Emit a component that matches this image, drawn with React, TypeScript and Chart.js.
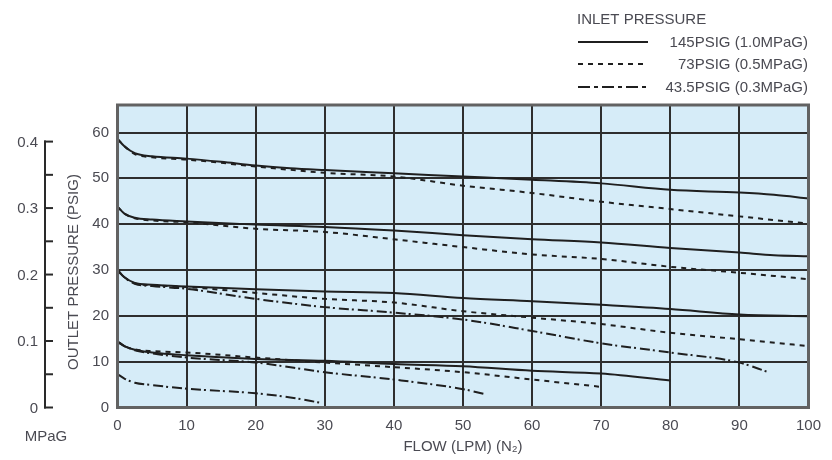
import React, { useEffect, useRef } from "react";
import { Chart, registerables } from "chart.js";

Chart.register(...registerables);

// ---------- data ----------
const FLOW_MIN = 0;
const FLOW_MAX = 100;
const PSI_MIN = 0;
const PSI_MAX = 66;
const PSI_PER_MPA = 145.038;

const MPA_TICKS = [0, 0.05, 0.1, 0.15, 0.2, 0.25, 0.3, 0.35, 0.4];
const MPA_LABELS = ["0", "", "0.1", "", "0.2", "", "0.3", "", "0.4"];

const INLET_LABELS = ["145PSIG (1.0MPaG)", "73PSIG (0.5MPaG)", "43.5PSIG (0.3MPaG)"];

// 145 PSIG inlet (solid)
const S58_FLOW = [0, 1, 2.5, 5, 10, 15, 20, 25, 30, 40, 50, 60, 70, 80, 90, 95, 100];
const S58_PSI = [58.6, 57, 55.5, 54.8, 54.3, 53.6, 52.8, 52.2, 51.8, 51.1, 50.4, 49.7, 48.9, 47.5, 46.9, 46.4, 45.6];
const S44_FLOW = [0, 1, 2.5, 5, 10, 20, 30, 40, 50, 60, 70, 80, 90, 95, 100];
const S44_PSI = [43.8, 42.3, 41.4, 41, 40.6, 39.9, 39.4, 38.6, 37.6, 36.7, 36, 34.8, 33.8, 33.2, 33];
const S30_FLOW = [0, 1, 2.5, 5, 10, 20, 30, 40, 50, 60, 70, 80, 90, 100];
const S30_PSI = [30, 28.4, 27.2, 26.8, 26.4, 25.8, 25.3, 25, 23.9, 23.2, 22.4, 21.5, 20.3, 19.9];
const S14_FLOW = [0, 1, 2.5, 5, 10, 20, 30, 40, 50, 60, 70, 80];
const S14_PSI = [14.4, 13.4, 12.6, 12, 11.4, 10.6, 10.2, 9.5, 9, 8, 7.4, 5.9];

// 73 PSIG inlet (dotted)
const D58_FLOW = [0, 1, 2.5, 5, 10, 20, 30, 40, 50, 60, 70, 80, 90, 100];
const D58_PSI = [58.6, 57, 55.3, 54.6, 54.1, 52.6, 51.2, 50.4, 48.4, 46.8, 44.9, 43.3, 41.7, 40.1];
const D44_FLOW = [0, 1, 2.5, 5, 10, 20, 30, 40, 50, 60, 70, 80, 90, 100];
const D44_PSI = [43.8, 42.3, 41.3, 40.8, 40.4, 39, 38.3, 36.7, 35, 33.4, 32.4, 30.7, 29.4, 28];
const D30_FLOW = [0, 1, 2.5, 5, 10, 20, 30, 40, 50, 60, 70, 80, 90, 100];
const D30_PSI = [30, 28.4, 27.1, 26.7, 26.3, 25, 23.7, 22.9, 21, 19.6, 18.2, 16.3, 14.9, 13.4];
const D14_FLOW = [0, 1, 2.5, 5, 10, 20, 30, 40, 50, 60, 70];
const D14_PSI = [14.4, 13.4, 12.7, 12.3, 12, 10.9, 9.8, 8.8, 7.7, 6.1, 4.5];

// 43.5 PSIG inlet (dash-dot)
const C30_FLOW = [0, 1, 2.5, 5, 10, 20, 30, 40, 50, 60, 70, 80, 90, 94];
const C30_PSI = [30, 28.4, 27, 26.5, 25.9, 23.7, 21.9, 20.7, 19.2, 16.7, 14, 12, 9.8, 7.8];
const C14_FLOW = [0, 1, 2.5, 5, 10, 20, 30, 40, 50, 53];
const C14_PSI = [14.4, 13.4, 12.5, 11.8, 10.9, 9.8, 7.7, 6.1, 4, 3];
const C7_FLOW = [0, 1, 2.5, 5, 10, 20, 25, 29.5];
const C7_PSI = [7.3, 6.3, 5.4, 4.9, 4.1, 3.1, 2.2, 1];

// ---------- styling ----------
const FONT = "'Liberation Sans', Arial, Helvetica, sans-serif";
const TEXT = "#4a4a52";
const LINE = "#1f1f1f";
const DASHES: number[][] = [[], [5, 5], [10, 3, 2, 4]];
const LEGEND_DASHES: number[][] = [[], [5, 5], [12, 4, 4, 4]];

const SERIES: { inlet: number; flow: number[]; psi: number[] }[] = [
  { inlet: 0, flow: S58_FLOW, psi: S58_PSI },
  { inlet: 0, flow: S44_FLOW, psi: S44_PSI },
  { inlet: 0, flow: S30_FLOW, psi: S30_PSI },
  { inlet: 0, flow: S14_FLOW, psi: S14_PSI },
  { inlet: 1, flow: D58_FLOW, psi: D58_PSI },
  { inlet: 1, flow: D44_FLOW, psi: D44_PSI },
  { inlet: 1, flow: D30_FLOW, psi: D30_PSI },
  { inlet: 1, flow: D14_FLOW, psi: D14_PSI },
  { inlet: 2, flow: C30_FLOW, psi: C30_PSI },
  { inlet: 2, flow: C14_FLOW, psi: C14_PSI },
  { inlet: 2, flow: C7_FLOW, psi: C7_PSI },
];

const decorPlugin = {
  id: "decor",
  beforeDraw(chart: any) {
    const { ctx, chartArea } = chart;
    ctx.save();
    ctx.fillStyle = "#ffffff";
    ctx.fillRect(0, 0, chart.width, chart.height);
    ctx.fillStyle = "#d6ecf8";
    ctx.fillRect(chartArea.left, chartArea.top, chartArea.right - chartArea.left, chartArea.bottom - chartArea.top);
    ctx.restore();
  },
  afterDraw(chart: any) {
    const { ctx, chartArea } = chart;
    const y = chart.scales.y;
    ctx.save();
    // frame
    ctx.strokeStyle = "#626262";
    ctx.lineWidth = 3;
    ctx.strokeRect(chartArea.left, chartArea.top, chartArea.right - chartArea.left, chartArea.bottom - chartArea.top);

    // MPa axis
    const axX = 45;
    const top = y.getPixelForValue(MPA_TICKS[MPA_TICKS.length - 1] * PSI_PER_MPA);
    const bot = y.getPixelForValue(MPA_TICKS[0] * PSI_PER_MPA);
    ctx.strokeStyle = "#2a2a2a";
    ctx.lineWidth = 2;
    ctx.beginPath();
    ctx.moveTo(axX, top - 1);
    ctx.lineTo(axX, bot + 1);
    ctx.stroke();
    ctx.font = `15px ${FONT}`;
    ctx.fillStyle = TEXT;
    ctx.textAlign = "right";
    ctx.textBaseline = "middle";
    MPA_TICKS.forEach((v, i) => {
      const py = y.getPixelForValue(v * PSI_PER_MPA);
      ctx.beginPath();
      ctx.moveTo(axX - 1, py);
      ctx.lineTo(axX + 8, py);
      ctx.stroke();
      if (MPA_LABELS[i]) ctx.fillText(MPA_LABELS[i], 38, py + 1);
    });
    ctx.textAlign = "center";
    ctx.fillText("MPaG", 46, 437);

    // y title
    ctx.save();
    ctx.translate(74, 272);
    ctx.rotate(-Math.PI / 2);
    ctx.textAlign = "center";
    ctx.textBaseline = "middle";
    ctx.fillText("OUTLET PRESSURE (PSIG)", 0, 0);
    ctx.restore();

    // legend
    ctx.textAlign = "left";
    ctx.textBaseline = "middle";
    ctx.fillText("INLET PRESSURE", 577, 20);
    const rows = [42, 64, 87];
    INLET_LABELS.forEach((lab, i) => {
      ctx.strokeStyle = LINE;
      ctx.lineWidth = 2;
      ctx.setLineDash(LEGEND_DASHES[i]);
      ctx.beginPath();
      ctx.moveTo(578, rows[i]);
      ctx.lineTo(648, rows[i]);
      ctx.stroke();
      ctx.setLineDash([]);
      ctx.textAlign = "right";
      ctx.fillText(lab, 808, rows[i] + 1);
    });
    ctx.restore();
  },
};

export default function App() {
  const ref = useRef<HTMLCanvasElement | null>(null);

  useEffect(() => {
    if (!ref.current) return;
    const datasets = SERIES.map((s) => ({
      label: INLET_LABELS[s.inlet],
      data: s.flow.map((f, i) => ({ x: f, y: s.psi[i] })),
      borderColor: LINE,
      borderWidth: 2,
      borderDash: DASHES[s.inlet],
      pointRadius: 0,
      fill: false,
      cubicInterpolationMode: "monotone" as const,
      tension: 0.4,
    }));
    const gridCommon = { color: "#2e2e2e", lineWidth: 2, drawTicks: false };
    const chart = new Chart(ref.current, {
      type: "line",
      data: { datasets },
      plugins: [decorPlugin],
      options: {
        animation: false,
        responsive: false,
        devicePixelRatio: 1,
        layout: { padding: { left: 0, right: 23.5, top: 105, bottom: 0 } },
        plugins: { legend: { display: false }, tooltip: { enabled: false } },
        scales: {
          x: {
            type: "linear",
            min: FLOW_MIN,
            max: FLOW_MAX,
            ticks: { stepSize: 10, padding: 9, color: TEXT, font: { family: FONT, size: 15 }, maxRotation: 0 },
            grid: gridCommon,
            border: { display: false },
            title: {
              display: true,
              text: "FLOW (LPM) (N₂)",
              color: TEXT,
              font: { family: FONT, size: 15 },
              padding: { top: 0, bottom: 4 },
            },
            afterFit: (s: any) => {
              s.height = 52.5;
            },
          },
          y: {
            type: "linear",
            min: PSI_MIN,
            max: PSI_MAX,
            ticks: { stepSize: 10, includeBounds: false, padding: 8.5, color: TEXT, font: { family: FONT, size: 15 } },
            grid: gridCommon,
            border: { display: false },
            afterFit: (s: any) => {
              s.width = 117.5;
            },
          },
        },
      },
    });
    return () => chart.destroy();
  }, []);

  return (
    <div style={{ position: "absolute", left: 0, top: 0, width: 832, height: 460, background: "#fff" }}>
      <canvas ref={ref} width={832} height={460} style={{ display: "block", width: 832, height: 460 }} />
    </div>
  );
}
